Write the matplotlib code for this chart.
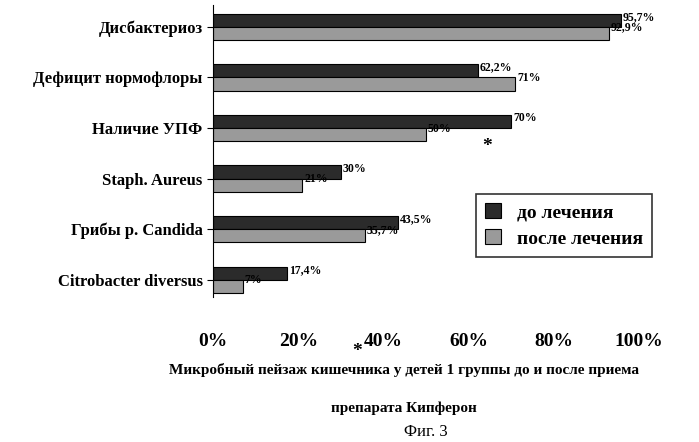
import matplotlib.pyplot as plt

categories = ['Дисбактериоз', 'Дефицит нормофлоры', 'Наличие УПФ',
              'Staph. Aureus', 'Грибы р. Candida', 'Citrobacter diversus']
before = [95.7, 62.2, 70, 30, 43.5, 17.4]
after = [92.9, 71, 50, 21, 35.7, 7]
before_labels = ['95,7%', '62,2%', '70%', '30%', '43,5%', '17,4%']
after_labels = ['92,9%', '71%', '50%', '21%', '35,7%', '7%']
xticks = [0, 20, 40, 60, 80, 100]

plt.rcParams['font.family'] = 'Liberation Serif'
plt.rcParams['font.weight'] = 'bold'

fig = plt.figure(figsize=(6.99, 4.42), dpi=100)
ax = fig.add_axes([213 / 699, 1 - 297 / 442, 426 / 699, 292 / 442])

n = len(categories)
pos = [n - 1 - i for i in range(n)]
h = 0.26
ax.barh([p + h / 2 for p in pos], before, height=h, color='#2b2b2b', edgecolor='black', lw=0.8, label='до лечения')
ax.barh([p - h / 2 for p in pos], after, height=h, color='#9a9a9a', edgecolor='black', lw=0.8, label='после лечения')

for p, v, t in zip(pos, before, before_labels):
    ax.text(v + 0.4, p + h * 0.75, t, fontsize=8.5, fontweight='bold', va='center')
for p, v, t in zip(pos, after, after_labels):
    ax.text(v + 0.4, p - h * 0.05, t, fontsize=8.5, fontweight='bold', va='center')

ax.set_ylim(-0.34, 5.43)
ax.set_xlim(0, 100)
ax.set_yticks(pos)
ax.set_yticklabels(categories, fontsize=12, fontweight='bold')
ax.set_xticks(xticks)
ax.set_xticklabels([f'{x}%' for x in xticks], fontsize=14, fontweight='bold')
ax.tick_params(axis='x', length=0, pad=26)
ax.tick_params(axis='y', length=4, direction='out')
for s in ['top', 'right', 'bottom']:
    ax.spines[s].set_visible(False)

leg = ax.legend(loc='upper left', bbox_to_anchor=((466 - 213) / 426, (297 - 184) / 292),
                fontsize=14, frameon=True, fancybox=False, edgecolor='black',
                handlelength=0.8, handleheight=0.8, borderpad=0.5, labelspacing=0.4)
leg.get_frame().set_linewidth(1.2)

fig.text(487 / 699, 1 - 147 / 442, '*', fontsize=14, ha='center', va='center')
fig.text(357 / 699, 1 - 352 / 442, '*', fontsize=14, ha='center', va='center')
fig.text(404 / 699, 1 - 370 / 442, 'Микробный пейзаж кишечника у детей 1 группы до и после приема',
         fontsize=11, fontweight='bold', ha='center', va='center')
fig.text(404 / 699, 1 - 408 / 442, 'препарата Кипферон', fontsize=11, fontweight='bold',
         ha='center', va='center')
fig.text(426 / 699, 1 - 432 / 442, 'Фиг. 3', fontsize=12, fontweight='normal', ha='center', va='center')

fig.savefig('out.png', dpi=100)
